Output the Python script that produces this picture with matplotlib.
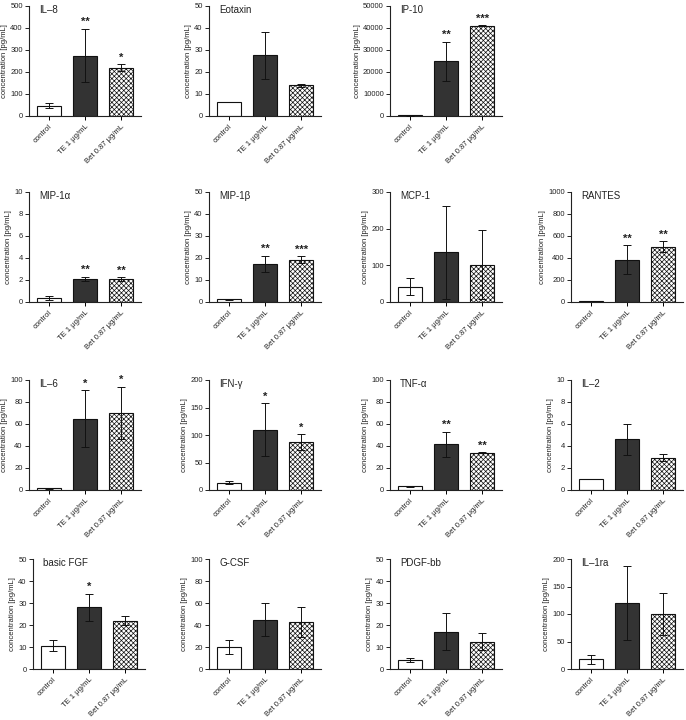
import matplotlib
matplotlib.use("Agg")
import matplotlib.pyplot as plt
import numpy as np

plt.rcParams['font.family'] = ['Liberation Sans', 'DejaVu Sans']
plt.rcParams['hatch.linewidth'] = 0.5
plt.rcParams['hatch.color'] = '#555555'

groups = ["control", "TE 1 μg/mL", "Bet 0.87 μg/mL"]

names = ["IL–8", "Eotaxin", "IP-10", None,
         "MIP-1α", "MIP-1β", "MCP-1", "RANTES",
         "IL–6", "IFN-γ", "TNF-α", "IL–2",
         "basic FGF", "G-CSF", "PDGF-bb", "IL–1ra"]

means = {
    "IL–8": [47, 275, 220],
    "Eotaxin": [6.3, 27.5, 14.0],
    "IP-10": [300, 24800, 41000],
    "MIP-1α": [0.37, 2.08, 2.1],
    "MIP-1β": [1.3, 17.3, 19.3],
    "MCP-1": [42, 135, 102],
    "RANTES": [8, 385, 500],
    "IL–6": [1.5, 65, 70],
    "IFN-γ": [13.5, 110, 87],
    "TNF-α": [3.2, 41.5, 34],
    "IL–2": [1.0, 4.6, 2.95],
    "basic FGF": [10.5, 28, 22],
    "G-CSF": [20, 45, 42.5],
    "PDGF-bb": [4, 17, 12.5],
    "IL–1ra": [18, 120, 100],
}
sds = {
    "IL–8": [11, 122, 15],
    "Eotaxin": [0, 10.7, 0.6],
    "IP-10": [100, 9000, 200],
    "MIP-1α": [0.15, 0.2, 0.17],
    "MIP-1β": [0.2, 3.7, 1.5],
    "MCP-1": [24, 127, 94],
    "RANTES": [2, 133, 50],
    "IL–6": [0.4, 25.5, 24],
    "IFN-γ": [3, 48, 14],
    "TNF-α": [0.8, 11.5, 0.5],
    "IL–2": [0, 1.4, 0.3],
    "basic FGF": [2.5, 6.3, 2],
    "G-CSF": [6.5, 15, 13.5],
    "PDGF-bb": [1, 8.5, 4],
    "IL–1ra": [8, 67, 38],
}
stars = {
    "IL–8": ["", "**", "*"],
    "IP-10": ["", "**", "***"],
    "MIP-1α": ["", "**", "**"],
    "MIP-1β": ["", "**", "***"],
    "RANTES": ["", "**", "**"],
    "IL–6": ["", "*", "*"],
    "IFN-γ": ["", "*", "*"],
    "TNF-α": ["", "**", "**"],
    "basic FGF": ["", "*", ""],
}
ymax = {
    "IL–8": 500, "Eotaxin": 50, "IP-10": 50000,
    "MIP-1α": 10, "MIP-1β": 50, "MCP-1": 300, "RANTES": 1000,
    "IL–6": 100, "IFN-γ": 200, "TNF-α": 100, "IL–2": 10,
    "basic FGF": 50, "G-CSF": 100, "PDGF-bb": 50, "IL–1ra": 200,
}
ystep = {
    "IL–8": 100, "Eotaxin": 10, "IP-10": 10000,
    "MIP-1α": 2, "MIP-1β": 10, "MCP-1": 100, "RANTES": 200,
    "IL–6": 20, "IFN-γ": 50, "TNF-α": 20, "IL–2": 2,
    "basic FGF": 10, "G-CSF": 20, "PDGF-bb": 10, "IL–1ra": 50,
}

W, H = 686, 720
fig = plt.figure(figsize=(W / 100, H / 100), dpi=100)

col_left = [29, 209, 390, 571]
row_top = [6, 192, 380, 559]
aw, ah = 112, 110

txtc = '#222222'
for i, name in enumerate(names):
    if name is None:
        continue
    r, c = divmod(i, 4)
    left = col_left[c]
    if r == 3 and c == 0:
        left = 33
    ax = fig.add_axes([left / W, (H - row_top[r] - ah) / H, aw / W, ah / H])
    x = np.arange(3)
    m = means[name]
    s = sds[name]
    ax.bar(x[0], m[0], width=0.68, color='white', edgecolor='#111111', linewidth=0.8, zorder=2)
    ax.bar(x[1], m[1], width=0.68, color='#333333', edgecolor='#111111', linewidth=0.8, zorder=2)
    ax.bar(x[2], m[2], width=0.68, color='white', edgecolor='#111111', linewidth=0.8,
           hatch='xxxxxxx', zorder=2)
    ax.errorbar(x, m, yerr=s, fmt='none', ecolor='#111111', elinewidth=0.7,
                capsize=3.2, capthick=0.7, zorder=3)
    ym = ymax[name]
    if name in stars:
        for xi, st in enumerate(stars[name]):
            if st:
                ax.text(xi, m[xi] + s[xi] + 0.06 * ym, st, ha='center', va='center',
                        fontsize=8, fontweight='bold', color=txtc)
    ax.set_xlim(-0.55, 2.55)
    ax.set_ylim(0, ym)
    ax.set_yticks(np.arange(0, ym + ystep[name] / 2, ystep[name]))
    ax.set_xticks(x)
    ax.set_xticklabels(groups, rotation=45, ha='right', rotation_mode='anchor',
                       fontsize=5.5, color=txtc)
    ax.tick_params(axis='y', labelsize=5.5, length=3, width=0.7, pad=1.5, colors=txtc)
    ax.tick_params(axis='x', length=3, width=0.7, pad=2)
    for sp in ['top', 'right']:
        ax.spines[sp].set_visible(False)
    for sp in ['left', 'bottom']:
        ax.spines[sp].set_linewidth(0.8)
        ax.spines[sp].set_color('#222222')
    ax.set_ylabel("concentration [pg/mL]", fontsize=5.5, labelpad=1.5, color=txtc)
    ax.text(0.09, 0.965, name, transform=ax.transAxes, ha='left', va='center',
            fontsize=7, color=txtc)

fig.savefig("out.png", dpi=100)
